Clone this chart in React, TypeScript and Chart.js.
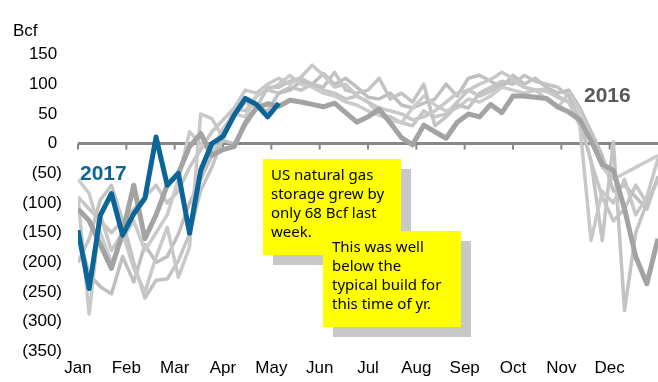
import React, { useEffect, useRef } from 'react';
import { Chart, registerables } from 'chart.js';
Chart.register(...registerables);

const months = ['Jan', 'Feb', 'Mar', 'Apr', 'May', 'Jun', 'Jul', 'Aug', 'Sep', 'Oct', 'Nov', 'Dec'];
const yTickValues = [-350, -300, -250, -200, -150, -100, -50, 0, 50, 100, 150];

const weekly2017 = [-146, -244, -121, -84, -154, -118, -92, 11, -70, -50, -151, -45, 0, 12, 48, 76, 66, 45, 68];
const weekly2016 = [-110, -130, -170, -210, -150, -70, -160, -120, -70, -50, -5, 17, -20, -10, -5, 35, 60, 67, 63, 73, 70, 66, 62, 68, 52, 36, 45, 58, 35, 10, -2, 31, 20, 9, 36, 50, 45, 66, 52, 80, 80, 78, 76, 62, 53, 40, 5, -35, -45, -110, -190, -236, -160];
const weeklyPastA = [-90, -287, -120, -180, -150, -210, -250, -191, -141, -225, -174, 50, 42, 10, 60, 90, 85, 100, 110, 100, 112, 132, 115, 95, 100, 80, 70, 60, 55, 50, 40, 45, 55, 70, 85, 90, 100, 108, 120, 110, 95, 90, 88, 78, 70, 30, -163, -80, -100, -60, -120, -90, -25];
const weeklyPastB = [-200, -160, -95, -70, -130, -200, -260, -230, -228, -197, -152, -79, -40, 10, 45, 70, 60, 95, 95, 105, 110, 100, 95, 120, 90, 85, 90, 110, 75, 85, 70, 100, 30, 45, 65, 60, 85, 95, 105, 100, 115, 105, 100, 95, 80, 40, -30, -163, 3, -281, -150, -100, -60];
const weeklyPastC = [-60, -84, -150, -200, -160, -130, -180, -150, -120, -60, 20, 0, -15, 25, 50, 45, 80, 90, 100, 115, 100, 95, 85, 80, 70, 65, 55, 48, 40, 35, 60, 80, 65, 55, 60, 75, 70, 80, 95, 90, 85, 90, 75, 60, 85, 55, 10, -40, -60, -50, -40, -30, -20];
const weeklyPastD = [-150, -220, -241, -253, -190, -233, -170, -200, -190, -152, -100, -60, -20, 5, 0, 30, 60, 55, 85, 90, 105, 100, 118, 100, 110, 95, 78, 75, 85, 65, 60, 68, 75, 100, 80, 110, 115, 105, 95, 115, 100, 110, 95, 85, 90, 60, 20, -20, -80, -70, -90, -110, -55];
const weeklyPastE = [-90, -110, -130, -150, -130, -110, -90, -70, -100, -80, -40, -10, 20, 40, 60, 55, 80, 90, 85, 95, 90, 100, 90, 85, 75, 80, 70, 50, 45, 35, 30, 55, 45, 50, 70, 90, 80, 88, 100, 105, 95, 90, 92, 80, 70, 40, -30, -90, -130, -110, -70, -100, -60];

const WEEKS_PER_YEAR = 52;
const monthStarts = months.map((_, i) => (i * WEEKS_PER_YEAR) / 12);

const FONT = "'Liberation Sans', Arial, sans-serif";
const NOTE_FONT = "'Comic Sans MS', 'Noto Sans', sans-serif";

const toPoints = (arr: number[]) => arr.map((v, i) => ({ x: i, y: v }));

const fmt = (v: number) => (v < 0 ? `(${Math.abs(v)})` : `${v} `);

const zeroAxisPlugin = {
  id: 'zeroAxis',
  beforeDatasetsDraw(chart: any) {
    const { ctx, chartArea, scales } = chart;
    const y = scales.y.getPixelForValue(0);
    ctx.save();
    ctx.strokeStyle = '#878787';
    ctx.lineWidth = 3;
    ctx.beginPath();
    ctx.moveTo(chartArea.left, y);
    ctx.lineTo(chartArea.right, y);
    ctx.stroke();
    ctx.lineWidth = 2;
    monthStarts.forEach((m) => {
      const x = scales.x.getPixelForValue(m);
      ctx.beginPath();
      ctx.moveTo(x, y);
      ctx.lineTo(x, y + 6);
      ctx.stroke();
    });
    ctx.restore();
  },
};

const notesPlugin = {
  id: 'notes',
  afterDraw(chart: any) {
    const { ctx } = chart;
    ctx.save();
    ctx.fillStyle = '#000';
    ctx.font = `17px ${FONT}`;
    ctx.textAlign = 'left';
    ctx.textBaseline = 'middle';
    ctx.fillText('Bcf', 13, 31);
    ctx.font = `bold 21px ${FONT}`;
    ctx.fillStyle = '#0b6596';
    ctx.fillText('2017', 80, 174);
    ctx.fillStyle = '#595959';
    ctx.fillText('2016', 584, 96);

    const box = (x: number, y: number, w: number, h: number, lines: string[], tx: number, ty: number) => {
      ctx.fillStyle = '#c8c8c8';
      ctx.fillRect(x + 10, y + 10, w, h);
      ctx.fillStyle = '#ffff00';
      ctx.fillRect(x, y, w, h);
      ctx.fillStyle = '#000';
      ctx.font = `15px ${NOTE_FONT}`;
      ctx.textAlign = 'left';
      ctx.textBaseline = 'middle';
      lines.forEach((l, i) => ctx.fillText(l, tx, ty + i * 19));
    };
    box(263, 159, 138, 96, ['US natural gas', 'storage grew by', 'only 68 Bcf last', 'week.'], 271, 176);
    box(323, 231, 138, 96, ['This was well', 'below the', 'typical build for', 'this time of yr.'], 332, 248);
    ctx.restore();
  },
};

export default function App() {
  const ref = useRef<HTMLCanvasElement>(null);
  useEffect(() => {
    if (!ref.current) return;
    const light = (data: number[], color: string) => ({
      data: toPoints(data),
      borderColor: color,
      borderWidth: 3.5,
      pointRadius: 0,
      tension: 0,
      borderJoinStyle: 'round' as const,
      order: 3,
    });
    const chart = new Chart(ref.current, {
      type: 'line',
      data: {
        datasets: [
          light(weeklyPastA, '#c8c8c8'),
          light(weeklyPastB, '#c3c3c3'),
          light(weeklyPastC, '#cbcbcb'),
          light(weeklyPastD, '#bfbfbf'),
          light(weeklyPastE, '#c6c6c6'),
          {
            data: toPoints(weekly2016),
            borderColor: '#a3a3a3',
            borderWidth: 5,
            pointRadius: 0,
            tension: 0,
            borderJoinStyle: 'round',
            order: 2,
          },
          {
            data: toPoints(weekly2017),
            borderColor: '#0b6596',
            borderWidth: 5,
            pointRadius: 0,
            tension: 0,
            borderJoinStyle: 'round',
            order: 1,
          },
        ],
      },
      options: {
        responsive: false,
        animation: false,
        layout: { padding: { top: 54.5, left: 0, right: 0, bottom: 0 } },
        plugins: { legend: { display: false }, tooltip: { enabled: false } },
        scales: {
          x: {
            type: 'linear',
            min: 0,
            max: WEEKS_PER_YEAR,
            grid: { display: false, drawTicks: false },
            border: { display: false },
            afterBuildTicks: (scale: any) => {
              scale.ticks = monthStarts.map((v) => ({ value: v }));
            },
            afterFit: (scale: any) => {
              scale.height = 30.5;
            },
            ticks: {
              autoSkip: false,
              maxRotation: 0,
              padding: 7,
              color: '#000',
              font: { family: FONT, size: 17 },
              callback: (_v: any, i: number) => months[i],
            },
          },
          y: {
            min: -350,
            max: 150,
            grid: { display: false, drawTicks: false },
            border: { display: false },
            afterBuildTicks: (scale: any) => {
              scale.ticks = yTickValues.map((v) => ({ value: v }));
            },
            afterFit: (scale: any) => {
              scale.width = 78;
            },
            ticks: {
              padding: 16,
              color: '#000',
              font: { family: FONT, size: 17 },
              callback: (v: any) => fmt(Number(v)),
            },
          },
        },
      },
      plugins: [zeroAxisPlugin, notesPlugin],
    });
    return () => chart.destroy();
  }, []);
  return (
    <div style={{ position: 'fixed', left: 0, top: 0, width: 658, height: 382, background: '#fff' }}>
      <canvas ref={ref} width={658} height={382} style={{ width: 658, height: 382 }} />
    </div>
  );
}
